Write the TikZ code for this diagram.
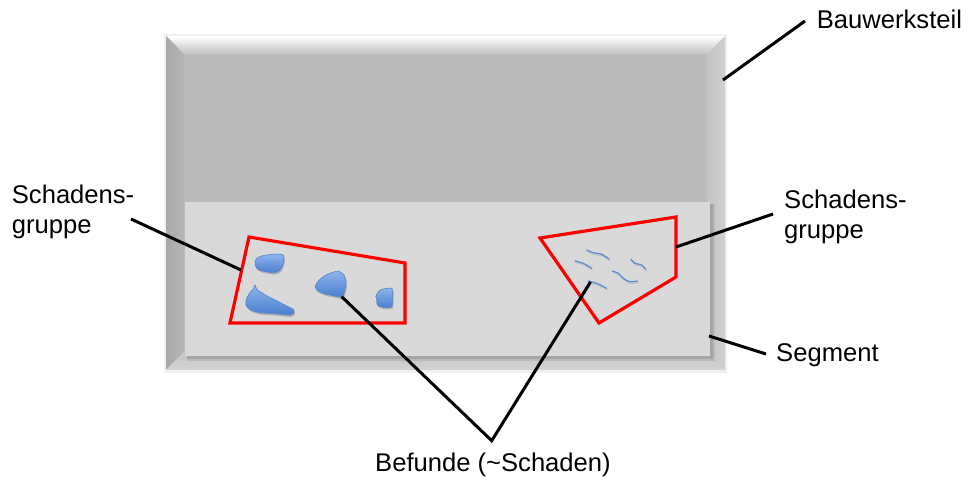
\documentclass[tikz,border=0pt]{standalone}
\usepackage{fontspec}
\setmainfont{Liberation Sans}
\definecolor{bevelface}{HTML}{BBBBBB}
\definecolor{beveltop}{HTML}{C2C2C2}
\definecolor{bevelleftout}{HTML}{A9A9A9}
\definecolor{bevelleftin}{HTML}{B6B6B6}
\definecolor{bevelrightin}{HTML}{C4C4C4}
\definecolor{bevelrightout}{HTML}{D0D0D0}
\definecolor{bevelbottomin}{HTML}{C4C4C4}
\definecolor{bevelbottomout}{HTML}{D4D4D4}
\definecolor{segfill}{HTML}{D9D9D9}
\definecolor{blobtop}{HTML}{8DB6EC}
\definecolor{blobbot}{HTML}{4A7ED0}
\definecolor{blobedge}{HTML}{5584CA}
\definecolor{crackblue}{HTML}{5A8CD4}
\begin{document}
\begin{tikzpicture}[x=1pt,y=-1pt,
  lbl/.style={font=\fontsize{25.6}{30}\selectfont, inner sep=0pt, anchor=base west, align=left},
  leader/.style={line width=3pt, draw=black},
  grp/.style={line width=3.2pt, draw=red, line join=miter},
  blob/.style={top color=blobtop, bottom color=blobbot, draw=blobedge, line width=0.6pt},
  blobshadow/.style={fill=black, opacity=0.18},
  crack/.style={draw=crackblue, line width=1.2pt, line cap=round}]
\useasboundingbox (0,0) rectangle (968,478);

% building part: bevelled panel
\fill[black, opacity=0.06] (164,34) rectangle (727,373);
\fill[bevelface] (184,54) rectangle (707,352);
\shade[top color=white, bottom color=beveltop]
  (166,36) -- (725,36) -- (707,54) -- (184,54) -- cycle;
\shade[left color=bevelleftout, right color=bevelleftin]
  (166,36) -- (184,54) -- (184,352) -- (166,370) -- cycle;
\shade[left color=bevelrightin, right color=bevelrightout]
  (725,36) -- (707,54) -- (707,352) -- (725,370) -- cycle;
\shade[top color=bevelbottomin, bottom color=bevelbottomout]
  (166,370) -- (184,352) -- (707,352) -- (725,370) -- cycle;

% segment with soft shadow
\fill[black, opacity=0.08] (187,204) rectangle (715,361);
\fill[black, opacity=0.10] (187,204) rectangle (713,359);
\fill[segfill] (185,202) rectangle (710,356);

% damage groups
\draw[grp] (249,237) -- (405,263) -- (405,323) -- (230,323) -- cycle;
\draw[grp] (540,238) -- (676,217) -- (676,277) -- (599,323) -- cycle;

% areal damages (blobs)
\begin{scope}[shift={(1,2)}]
  \fill[blobshadow] plot[smooth cycle, tension=0.6] coordinates {(256,259.3) (261.7,256) (273.3,254.3) (281.7,254.3) (284,257.3) (282.7,265) (279.3,270.7) (273.3,272.7) (266.7,271.7) (259.3,270) (255.3,266)};
  \fill[blobshadow] plot[smooth cycle, tension=0.5] coordinates {(255,285) (256.7,289.3) (261.7,292.7) (268.3,296.7) (276.7,300.7) (286.7,306) (293.3,309.3) (294,312.7) (290,315) (281.7,314.3) (270,313.3) (260,312.7) (250.7,310) (246,305) (246.7,298.3) (250.7,291.7) (253.3,289)};
  \fill[blobshadow] plot[smooth cycle, tension=0.5] coordinates {(338.3,271) (344,275) (346,281.7) (345,290) (341.7,296.7) (333.3,295.7) (323.3,293.3) (316.7,290) (315.7,285) (320,279.3) (327.3,274.3) (335,271.7)};
  \fill[blobshadow] plot[smooth cycle, tension=0.4] coordinates {(380,290) (391.7,288.3) (392.7,296.7) (391.7,306.7) (383.3,307.3) (377.3,305) (376.7,298.3) (375.7,296.7)};
\end{scope}
\draw[blob] plot[smooth cycle, tension=0.6] coordinates {(256,259.3) (261.7,256) (273.3,254.3) (281.7,254.3) (284,257.3) (282.7,265) (279.3,270.7) (273.3,272.7) (266.7,271.7) (259.3,270) (255.3,266)};
\draw[blob] plot[smooth cycle, tension=0.5] coordinates {(255,285) (256.7,289.3) (261.7,292.7) (268.3,296.7) (276.7,300.7) (286.7,306) (293.3,309.3) (294,312.7) (290,315) (281.7,314.3) (270,313.3) (260,312.7) (250.7,310) (246,305) (246.7,298.3) (250.7,291.7) (253.3,289)};
\draw[blob] plot[smooth cycle, tension=0.5] coordinates {(338.3,271) (344,275) (346,281.7) (345,290) (341.7,296.7) (333.3,295.7) (323.3,293.3) (316.7,290) (315.7,285) (320,279.3) (327.3,274.3) (335,271.7)};
\draw[blob] plot[smooth cycle, tension=0.4] coordinates {(380,290) (391.7,288.3) (392.7,296.7) (391.7,306.7) (383.3,307.3) (377.3,305) (376.7,298.3) (375.7,296.7)};

% cracks
\begin{scope}[shift={(0.8,1.6)}]
  \draw[crack, draw=black, opacity=0.12] plot[smooth] coordinates {(586.7,250) (593.3,252.7) (601.7,254.3) (609,259)};
  \draw[crack, draw=black, opacity=0.12] plot[smooth] coordinates {(575,261) (583.3,263.3) (591.7,268.3)};
  \draw[crack, draw=black, opacity=0.12] plot[smooth] coordinates {(630.7,259) (635,263.3) (641.7,265) (645.7,269.3)};
  \draw[crack, draw=black, opacity=0.12] plot[smooth] coordinates {(612.3,271) (618.3,273.3) (623.3,278.3) (630,281.7) (637.3,281)};
  \draw[crack, draw=black, opacity=0.12] plot[smooth] coordinates {(588.3,281) (596.7,283.3) (606.7,288.3)};
\end{scope}
\draw[crack] plot[smooth] coordinates {(586.7,250) (593.3,252.7) (601.7,254.3) (609,259)};
\draw[crack] plot[smooth] coordinates {(575,261) (583.3,263.3) (591.7,268.3)};
\draw[crack] plot[smooth] coordinates {(630.7,259) (635,263.3) (641.7,265) (645.7,269.3)};
\draw[crack] plot[smooth] coordinates {(612.3,271) (618.3,273.3) (623.3,278.3) (630,281.7) (637.3,281)};
\draw[crack] plot[smooth] coordinates {(588.3,281) (596.7,283.3) (606.7,288.3)};

% labels (base anchor of two-line labels sits on the last line)
\node[lbl] (bauteil) at (816.7,28.3) {Bauwerksteil};
\node[lbl] (grpL) at (11.7,233.3) {Schadens-\\gruppe};
\node[lbl] (grpR) at (784,238.3) {Schadens-\\gruppe};
\node[lbl] (segment) at (776,361.7) {Segment};
\node[lbl] (befunde) at (375,471.7) {Befunde (\textasciitilde Schaden)};

% leader ends
\coordinate (bauteilEnd) at (805,21);
\coordinate (bauteilTip) at (723,80);
\coordinate (grpLEnd) at (131,219);
\coordinate (grpLTip) at (241,270);
\coordinate (grpREnd) at (773,214);
\coordinate (grpRTip) at (676,247);
\coordinate (segEnd) at (766,354);
\coordinate (segTip) at (709,336);
\coordinate (befApex) at (491.7,440.7);
\coordinate (blobTip) at (341.7,296.7);
\coordinate (crackTip) at (590.5,282);

% leader lines
\draw[leader] (bauteilEnd) -- (bauteilTip);
\draw[leader] (grpLEnd) -- (grpLTip);
\draw[leader] (grpREnd) -- (grpRTip);
\draw[leader] (segEnd) -- (segTip);
\draw[leader, line join=miter] (blobTip) -- (befApex) -- (crackTip);
\end{tikzpicture}
\end{document}
